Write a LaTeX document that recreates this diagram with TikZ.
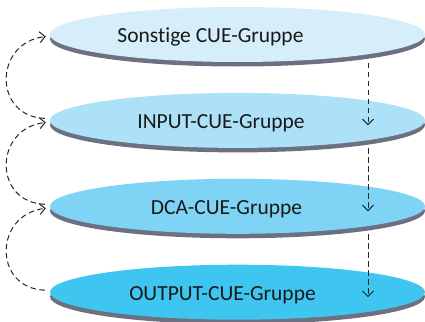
\documentclass[tikz,border=0pt]{standalone}
\usepackage{fontspec}
\setmainfont{Carlito}[Ligatures={NoCommon}]
\usetikzlibrary{arrows.meta,positioning,shapes.geometric,shadows,calc}
\definecolor{grpshadow}{RGB}{108,112,128}
\definecolor{sonfill}{RGB}{214,237,250}
\definecolor{inpfill}{RGB}{173,225,248}
\definecolor{dcafill}{RGB}{127,212,245}
\definecolor{outfill}{RGB}{62,198,241}
\definecolor{lbltext}{RGB}{25,25,25}

\begin{document}
\begin{tikzpicture}[
  x=1pt, y=1pt,
  >={Straight Barb[length=5.5pt,width=11pt]}, node distance=30.5pt,
  grp/.style={ellipse, minimum width=375pt, minimum height=55pt, inner sep=0pt,
              drop shadow={shadow xshift=0pt, shadow yshift=-4.5pt, fill=grpshadow, opacity=1}},
  lbl/.style={font=\fontsize{21.5}{24}\selectfont, text=lbltext, anchor=base, inner sep=0pt},
  flow/.style={->, draw=black!85, line width=1pt, dash pattern=on 5.5pt off 3.5pt}]
\useasboundingbox (0,0) rectangle (425,-321);
\node[grp, fill=sonfill] (son) at (237.5,-34.5) {};
\node[grp, fill=inpfill, below=of son] (inp) {};
\node[grp, fill=dcafill, below=of inp] (dca) {};
\node[grp, fill=outfill, below=of dca] (out) {};
\node[lbl] (sonlbl) at ($(son.center)+(-27,-8)$) {Sonstige CUE-Gruppe};
\node[lbl] (inplbl) at ($(inp.center)+(-16.5,-8)$) {INPUT-CUE-Gruppe};
\node[lbl] (dcalbl) at ($(dca.center)+(-11,-8)$) {DCA-CUE-Gruppe};
\node[lbl] (outlbl) at ($(out.center)+(-15,-8)$) {OUTPUT-CUE-Gruppe};
% down the right side
\draw[flow] ($(son.center)+(130.5,-28)$) -- ($(inp.center)+(130.5,-5)$);
\draw[flow] ($(inp.center)+(130.5,-28)$) -- ($(dca.center)+(130.5,-5)$);
\draw[flow] ($(dca.center)+(130.5,-28)$) -- ($(out.center)+(130.5,-5)$);
% back up the left side
\draw[flow] ($(inp.west)+(-5,2)$) .. controls +(-52,2) and +(-52,-6) .. ($(son.west)+(-4,-2)$);
\draw[flow] ($(dca.west)+(-5,2)$) .. controls +(-52,2) and +(-52,-6) .. ($(inp.west)+(-4,-2)$);
\draw[flow] ($(out.west)+(-5,2)$) .. controls +(-52,2) and +(-52,-6) .. ($(dca.west)+(-4,-2)$);
\end{tikzpicture}
\end{document}
